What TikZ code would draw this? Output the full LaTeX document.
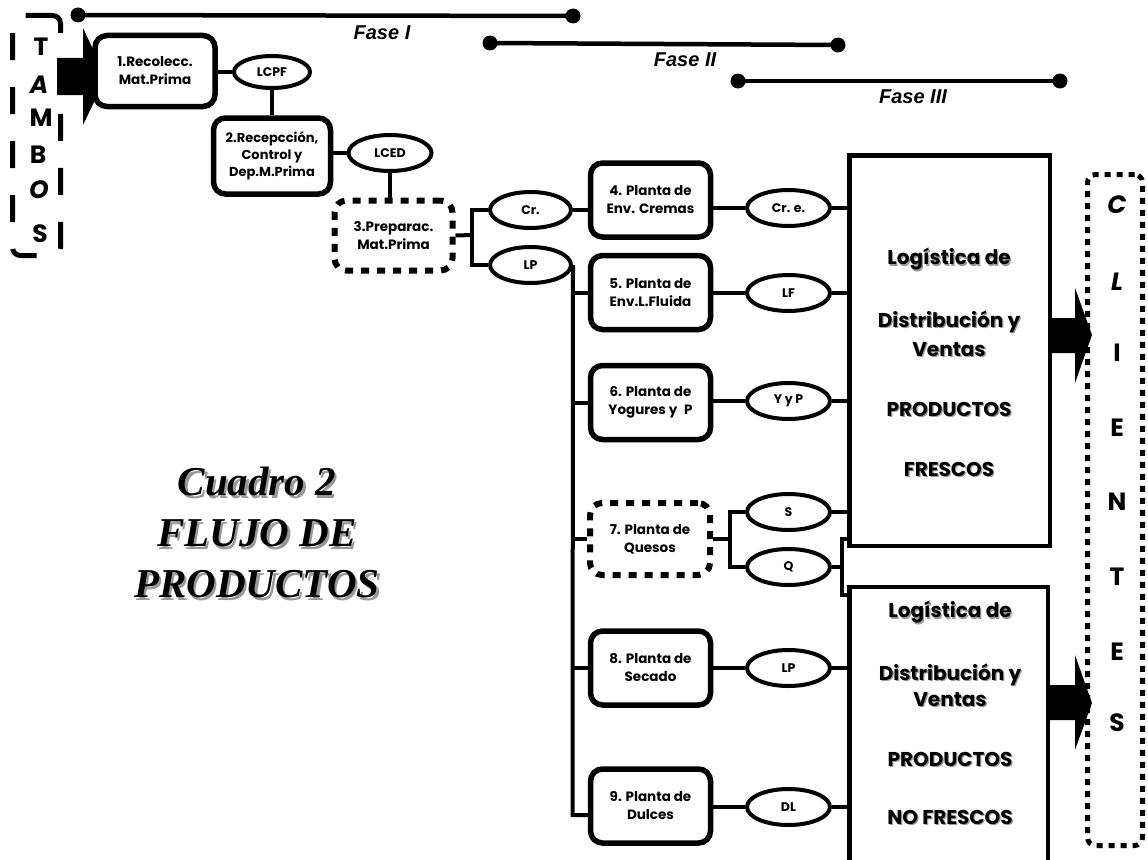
\documentclass[tikz,border=0pt]{standalone}
\usepackage{fontspec}
\setmainfont{Poppins}
\newfontfamily\phasefont{Liberation Sans}
\newfontfamily\titlefont{Liberation Serif}
\usetikzlibrary{shapes.geometric}
% text with a soft grey drop shadow
\newcommand\shd[1]{\leavevmode\rlap{\kern1.3pt\raisebox{-1.3pt}{\textcolor{black!40}{#1}}}#1}
\newcommand\shdb[1]{\leavevmode\rlap{\kern2.2pt\raisebox{-2.2pt}{\textcolor{black!40}{#1}}}#1}

\begin{document}
\begin{tikzpicture}[x=1pt,y=-1pt,
  proc/.style={draw,line width=5.5pt,rounded corners=12pt,fill=white,
    minimum width=120pt,minimum height=74pt,inner sep=0pt,align=center,
    font=\fontsize{13.5}{18}\selectfont\bfseries},
  dotproc/.style={proc,line width=6pt,dash pattern=on 8pt off 8pt},
  prod/.style={draw,ellipse,line width=4pt,minimum width=83pt,minimum height=36pt,
    inner sep=0pt,fill=white,font=\fontsize{12.5}{14}\selectfont\bfseries},
  link/.style={line width=4pt},
  logi/.style={draw,line width=4.5pt,inner sep=0pt},
  ltxt/.style={font=\fontsize{20}{24}\selectfont\bfseries},
  vlet/.style={font=\fontsize{25}{28}\selectfont\bfseries},
  fase/.style={font=\phasefont\fontsize{20}{22}\selectfont\bfseries\itshape},
  fline/.style={line width=4.5pt},
  fdot/.style={circle,fill=black,inner sep=0pt,minimum size=15pt}
]
\useasboundingbox (0,0) rectangle (1148,859);
\clip (0,0) rectangle (1148,859);

% ---- phase bars ----
\node[fdot] (f1a) at (78,15) {};
\node[fdot] (f1b) at (573,16) {};
\draw[fline] (f1a.center) -- (f1b.center);
\node[fase] (f1t) at (382,33) {Fase I};
\node[fdot] (f2a) at (490,43) {};
\node[fdot] (f2b) at (838,45) {};
\draw[fline] (f2a.center) -- (f2b.center);
\node[fase] (f2t) at (685,60) {Fase II};
\node[fdot] (f3a) at (738,81) {};
\node[fdot] (f3b) at (1060,81) {};
\draw[fline] (f3a.center) -- (f3b.center);
\node[fase] (f3t) at (913,97) {Fase III};

% ---- supplier column ----
\node[draw,line width=5pt,dash pattern=on 27pt off 27pt,rounded corners=8pt,
  minimum width=48pt,minimum height=240pt] (tambos) at (36.5,135.5) {};
\node[vlet] (ta1) at (41,47) {T};
\node[vlet] (ta2) at (39,85) {\itshape A};
\node[vlet] (ta3) at (41,118) {M};
\node[vlet] (ta4) at (38,155) {B};
\node[vlet] (ta5) at (39,190) {\itshape O};
\node[vlet] (ta6) at (40,234) {S};

% intake arrow
\fill (57,58) -- (83,58) -- (83,28) -- (106,77) -- (83,125) -- (83,95) -- (57,95) -- cycle;

% ---- phase I ----
\node[proc,minimum width=120pt,minimum height=71pt] (b1) at (155,71) {1.Recolecc.\\Mat.Prima};
\node[prod,minimum width=76pt,minimum height=32pt] (e1) at (272,72) {LCPF};
\node[proc,minimum width=117pt,minimum height=76pt,font=\fontsize{13}{17}\selectfont\bfseries] (b2) at (272,156) {2.Recepcción,\\Control y\\Dep.M.Prima};
\node[prod] (e2) at (390,153) {LCED};
\node[dotproc,minimum width=118pt,minimum height=70pt] (b3) at (393.5,235.5) {3.Preparac.\\Mat.Prima};

\draw[link] (b1.east |- e1.west) -- (e1.west);
\draw[link] (e1.south) -- (e1.south |- b2.north);
\draw[link] (e2.west) -- (e2.west -| b2.east);
\draw[link] (e2.south) -- (e2.south |- b3.north);

% ---- split after preparation ----
\node[prod,minimum width=81pt] (cr) at (530.5,210) {Cr.};
\node[prod,minimum width=81pt] (lp) at (530.5,265) {LP};
\coordinate (j1) at (472,235);
\draw[link] (b3.east) -- (j1);
\draw[link] (cr.west) -| (j1) |- (lp.west);

% ---- plants ----
\node[proc] (b4) at (650.5,200) {4. Planta de\\Env. Cremas};
\node[proc] (b5) at (650.5,292.5) {5. Planta de\\Env.L.Fluida};
\node[proc] (b6) at (650.5,402.5) {6. Planta de\\Yogures y\enspace P};
\node[dotproc,minimum width=120pt,minimum height=72pt] (b7) at (650,539) {7. Planta de\\Quesos};
\node[proc] (b8) at (650.5,668) {8. Planta de\\Secado};
\node[proc] (b9) at (650.5,806) {9. Planta de\\Dulces};

\draw[link] (cr.east) -- (b4.west |- cr.east);
\coordinate (tb) at (572.5,815);
\draw[link] (lp.east) -- (tb) -- (tb -| b9.west);
\draw[link] (tb |- b5.west) -- (b5.west);
\draw[link] (tb |- b6.west) -- (b6.west);
\draw[link] (tb |- b7.west) -- (b7.west);
\draw[link] (tb |- b8.west) -- (b8.west);

% ---- distribution blocks ----
\node[logi,minimum width=200.5pt,minimum height=390.5pt] (L1) at (949.5,350.5) {};
\node[logi,minimum width=198.5pt,minimum height=293pt] (L2) at (948.75,733.5) {};

% ---- products ----
\node[prod] (p4) at (788.5,208) {Cr. e.};
\node[prod] (p5) at (788.5,293) {LF};
\node[prod] (p6) at (788.5,401) {Y y P};
\node[prod] (ps) at (788.5,512) {S};
\node[prod] (pq) at (788.5,567) {Q};
\node[prod] (p8) at (788.5,668) {LP};
\node[prod] (p9) at (788.5,807) {DL};

\draw[link] (b4.east |- p4.west) -- (p4.west);
\draw[link] (b5.east |- p5.west) -- (p5.west);
\draw[link] (b6.east |- p6.west) -- (p6.west);
\draw[link] (b8.east |- p8.west) -- (p8.west);
\draw[link] (b9.east |- p9.west) -- (p9.west);
\draw[link] (p4.east) -- (p4.east -| L1.west);
\draw[link] (p5.east) -- (p5.east -| L1.west);
\draw[link] (p6.east) -- (p6.east -| L1.west);
\draw[link] (ps.east) -- (ps.east -| L1.west);
\draw[link] (p8.east) -- (p8.east -| L2.west);
\draw[link] (p9.east) -- (p9.east -| L2.west);

\coordinate (sq) at (730,539);
\draw[link] (b7.east) -- (sq);
\draw[link] (ps.west) -| (sq) |- (pq.west);
\coordinate (qj) at (842,567);
\coordinate (qt) at (842,539);
\coordinate (qb) at (842,595);
\draw[link] (pq.east) -- (qj);
\draw[link] (qt -| L1.west) -- (qt) -- (qb) -- (qb -| L2.west);

% ---- block texts ----
\node[ltxt] (l1a) at (949,260) {\shd{Logística de}};
\node[ltxt] (l1b) at (949,322) {\shd{Distribución y}};
\node[ltxt] (l1c) at (949,350) {\shd{Ventas}};
\node[ltxt] (l1d) at (949,410) {\shd{PRODUCTOS}};
\node[ltxt] (l1e) at (949,470) {\shd{FRESCOS}};
\node[ltxt] (l2a) at (950,613) {\shd{Logística de}};
\node[ltxt] (l2b) at (950,675) {\shd{Distribución y}};
\node[ltxt] (l2c) at (950,700) {\shd{Ventas}};
\node[ltxt] (l2d) at (950,760) {\shd{PRODUCTOS}};
\node[ltxt] (l2e) at (950,818) {\shd{NO FRESCOS}};

% ---- delivery arrows ----
\fill (1050,318) -- (1075,318) -- (1075,288) -- (1092,335) -- (1075,383) -- (1075,353) -- (1050,353) -- cycle;
\fill (1050,685) -- (1075,685) -- (1075,655) -- (1092,703) -- (1075,750) -- (1075,720) -- (1050,720) -- cycle;

% ---- customers column ----
\node[draw,line width=5pt,dash pattern=on 6pt off 6pt,rounded corners=8pt,
  minimum width=55pt,minimum height=671pt] (cli) at (1115,510) {};
\node[vlet] (c1) at (1117,205) {\itshape C};
\node[vlet] (c2) at (1117,282) {\itshape L};
\node[vlet] (c3) at (1117,353) {I};
\node[vlet] (c4) at (1117,428) {E};
\node[vlet] (c5) at (1117,502) {N};
\node[vlet] (c6) at (1117,577) {T};
\node[vlet] (c7) at (1117,652) {E};
\node[vlet] (c8) at (1117,723) {S};

% ---- title ----
\node[font=\titlefont\fontsize{41}{51}\selectfont\bfseries\itshape,align=center] (title) at (257,534)
  {\shdb{Cuadro 2}\\\shdb{FLUJO DE}\\\shdb{PRODUCTOS}};
\end{tikzpicture}
\end{document}
